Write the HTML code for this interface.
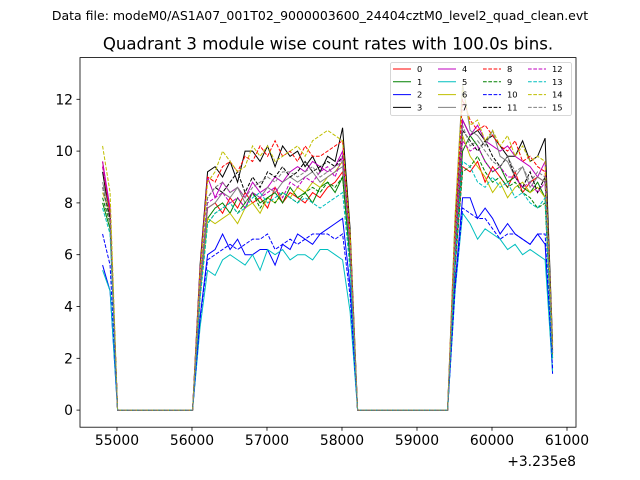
<!DOCTYPE html>
<html><head><meta charset="utf-8"><style>
body{margin:0;background:#fff;}
svg{display:block;font-family:"DejaVu Sans","Liberation Sans",sans-serif;}
</style></head><body>
<svg id="chart" width="640" height="480" viewBox="0 0 640 480">
<rect x="0" y="0" width="640" height="480" fill="#fff"/>
<text x="320" y="20" font-size="12.5" text-anchor="middle">Data file: modeM0/AS1A07_001T02_9000003600_24404cztM0_level2_quad_clean.evt</text>
<text x="328" y="49.5" font-size="16.6" text-anchor="middle">Quadrant 3 module wise count rates with 100.0s bins.</text>
<g id="series"></g>
<g id="axes"></g>
<g id="legend"></g>
</svg>
<script>
const timeStart = 54808;
const binSize = 100;
const preVals = [[9.6,7.6],[8.0,7.0],[5.6,4.6],[9.2,7.4],[9.6,7.8],[5.4,4.6],[8.4,7.6],[8.8,7.6],[9.4,7.6],[8.2,7.2],[6.8,5.6],[8.6,7.4],[9.4,7.8],[7.8,6.8],[10.2,8.4],[8.6,7.2]];
const r1Vals = [
[4.8,7.8,8.0,7.6,8.2,7.8,8.4,8.0,8.2,7.8,8.6,8.0,8.4,8.2,8.0,8.4,8.2,8.6,8.8,9.2,6.0],
[4.5,7.4,7.8,8.0,7.6,8.2,7.8,8.4,8.0,8.2,8.4,8.0,8.6,8.2,8.4,8.0,8.6,8.8,8.4,9.0,5.8],
[3.6,6.0,6.2,6.8,6.2,6.6,6.0,6.0,6.2,6.2,5.6,6.4,6.2,6.8,6.6,6.4,6.8,7.0,7.2,7.4,4.8],
[5.6,9.2,9.4,9.0,9.6,8.8,10.0,10.0,9.6,10.2,9.4,10.2,9.8,10.0,9.4,9.8,9.2,9.8,9.6,10.9,7.0],
[5.4,9.0,8.2,8.8,8.4,8.6,8.2,8.8,8.4,8.6,9.0,8.8,9.2,9.4,9.2,9.6,9.4,9.2,9.4,10.0,6.4],
[3.2,5.4,5.2,5.8,6.0,5.8,5.6,6.0,5.4,6.2,6.0,6.2,5.8,6.0,6.0,5.8,6.2,6.2,6.0,5.8,3.8],
[4.4,7.4,7.2,7.4,7.6,7.2,7.8,8.0,7.6,8.2,8.0,8.4,8.2,8.6,8.4,8.8,8.6,9.0,9.2,9.6,6.2],
[4.7,7.8,8.0,8.4,8.2,8.6,8.0,8.4,8.2,8.6,8.4,8.8,9.0,8.8,9.0,9.2,8.8,9.0,9.2,9.4,6.1],
[5.4,9.0,8.8,9.4,9.6,9.2,9.8,9.6,10.2,9.8,10.4,9.8,10.0,9.6,10.2,9.8,9.8,10.0,10.2,10.4,6.7],
[4.3,7.2,7.6,7.8,8.0,7.6,8.0,8.4,7.8,8.2,8.0,8.4,8.2,8.0,8.4,8.6,8.4,8.8,8.6,9.0,5.8],
[3.5,5.8,6.0,6.2,6.4,6.2,6.4,6.6,6.6,6.8,6.2,6.4,6.6,6.4,6.6,6.8,6.8,6.8,6.6,6.8,4.4],
[4.9,8.2,8.6,8.4,8.8,9.2,8.4,9.0,8.6,9.2,9.0,9.4,9.0,9.2,9.6,9.2,9.4,9.6,9.4,9.8,6.3],
[4.8,8.0,8.2,8.4,8.0,8.2,7.8,8.4,8.2,8.4,8.6,8.2,8.8,8.6,9.0,8.8,9.2,9.4,9.0,9.8,6.3],
[4.3,7.2,7.6,7.8,8.0,7.6,7.8,8.2,8.4,8.0,8.2,8.4,8.2,8.0,8.2,8.0,7.8,8.0,8.2,8.4,5.4],
[5.3,8.8,9.2,10.0,9.6,9.2,9.4,10.2,9.8,10.2,9.6,9.8,10.0,10.2,9.8,10.4,10.6,10.8,10.6,10.4,6.8],
[4.9,8.2,8.6,8.8,8.4,8.6,8.2,8.6,8.8,9.0,8.8,9.2,9.2,9.0,9.2,9.4,9.0,9.2,9.4,9.6,6.2]];
const r2Vals = [
[5.6,9.4,9.2,9.6,8.8,9.4,9.0,8.6,9.2,8.4,8.8,9.0,8.8,2.2],
[6.0,10.0,10.6,10.2,9.6,9.2,9.4,8.8,9.0,8.6,8.4,8.8,8.2,2.0],
[4.9,8.2,8.2,7.4,7.8,7.4,6.8,7.2,6.8,6.6,6.4,6.8,6.4,1.4],
[7.0,11.2,10.6,10.8,10.4,10.6,10.2,9.8,9.8,10.4,9.6,9.8,10.5,2.6],
[6.7,11.2,10.6,11.0,10.4,10.2,10.0,10.2,9.8,9.6,9.4,9.0,9.6,2.4],
[4.6,7.6,7.2,6.6,7.0,6.8,6.6,6.2,6.4,6.0,6.2,6.0,5.8,1.5],
[6.4,10.6,9.8,9.4,9.0,8.4,8.8,8.2,8.6,8.8,8.4,8.6,8.2,2.1],
[7.5,12.6,10.8,10.6,10.2,10.8,9.8,9.6,9.0,9.4,8.6,9.0,8.8,2.2],
[7.2,12.0,11.2,10.8,11.0,10.6,10.2,10.0,10.4,9.6,9.8,9.4,9.2,2.4],
[5.5,9.2,9.4,9.8,9.2,8.8,9.0,8.6,8.8,8.4,8.2,7.8,8.0,2.0],
[4.7,7.8,7.6,7.4,7.4,7.0,6.6,6.8,6.8,6.6,6.4,6.8,6.8,1.6],
[6.5,10.8,10.4,10.0,10.4,9.8,9.4,9.8,9.0,8.6,9.2,8.4,9.0,2.3],
[6.2,10.4,10.0,10.2,9.6,9.2,9.4,9.0,9.0,8.6,8.8,8.4,8.8,2.2],
[5.8,9.6,9.4,8.8,8.6,9.0,8.6,8.8,8.2,8.4,8.0,7.8,8.2,2.0],
[7.4,12.5,11.0,11.2,10.4,10.8,10.2,10.6,9.8,10.2,9.6,9.8,9.6,2.5],
[6.6,11.0,10.2,10.4,10.0,9.6,9.4,9.8,9.2,9.4,8.8,9.2,9.0,2.3]];
const zeroGap1 = 11, zeroGap2 = 13;
const yTicks = [0,2,4,6,8,10,12];
const xTicks = [55000,56000,57000,58000,59000,60000,61000];
const seriesLabels = ["0","1","2","3","4","5","6","7","8","9","10","11","12","13","14","15"];
const colors = ["#ff0000","#008000","#0000ff","#000000","#bf00bf","#00bfbf","#bfbf00","#808080"];

const L=80,R=576,T=57.6,B=427.2, xMin=54507, xMax=61120, yMin=-0.66, yMax=13.61;
const xs=v=>L+(v-xMin)/(xMax-xMin)*(R-L);
const ys=v=>B-(v-yMin)/(yMax-yMin)*(B-T);
const NS="http://www.w3.org/2000/svg";
function mk(tag,attrs,parent){const e=document.createElementNS(NS,tag);for(const k in attrs)e.setAttribute(k,attrs[k]);parent.appendChild(e);return e;}

const sg=document.getElementById('series');
seriesLabels.forEach((lab,s)=>{
  const vals=[...preVals[s],...Array(zeroGap1).fill(0),...r1Vals[s],...Array(zeroGap2).fill(0),...r2Vals[s]];
  const pts=vals.map((v,i)=>xs(timeStart+i*binSize).toFixed(2)+','+ys(v).toFixed(2)).join(' ');
  const pl=mk('polyline',{points:pts,fill:'none',stroke:colors[s%8],'stroke-width':1,'stroke-dasharray':s>=8?'3.7,1.6':'none'},sg);
  
  
});

const ax=document.getElementById('axes');
const frame=mk('rect',{x:L,y:T,width:R-L,height:B-T,fill:'none',stroke:'#000','stroke-width':0.8},ax);


yTicks.forEach(v=>{
  const y=ys(v);
  const t=mk('line',{x1:L-3.5,x2:L,y1:y,y2:y,stroke:'#000','stroke-width':0.8},ax);
  
  
  const tx=mk('text',{x:L-7,y:y+5,'font-size':13.9,'text-anchor':'end'},ax);
  tx.textContent=v;
  
  
});
xTicks.forEach(v=>{
  const x=xs(v);
  const t=mk('line',{x1:x,x2:x,y1:B,y2:B+3.5,stroke:'#000','stroke-width':0.8},ax);
  
  
  const tx=mk('text',{x:x,y:B+18,'font-size':13.9,'text-anchor':'middle'},ax);
  tx.textContent=v;
  
  
});
const off=mk('text',{x:R,y:466,'font-size':13.9,'text-anchor':'end'},ax);
off.textContent='+3.235e8';



const lg=document.getElementById('legend');
const box=mk('rect',{x:390.5,y:62.5,width:181,height:53,rx:2,fill:'#fff','fill-opacity':0.8,stroke:'#ccc','stroke-width':0.8},lg);


seriesLabels.forEach((lab,s)=>{
  const col=Math.floor(s/4), row=s%4;
  const x0=393+col*45, y0=69+row*12.8;
  const ln=mk('line',{x1:x0,x2:x0+18,y1:y0,y2:y0,stroke:colors[s%8],'stroke-width':1,'stroke-dasharray':s>=8?'3.7,1.6':'none'},lg);
  
  
  const tx=mk('text',{x:x0+24,y:y0+3,'font-size':8.3},lg);
  tx.textContent=lab;
  
  
});
</script>
</body></html>
